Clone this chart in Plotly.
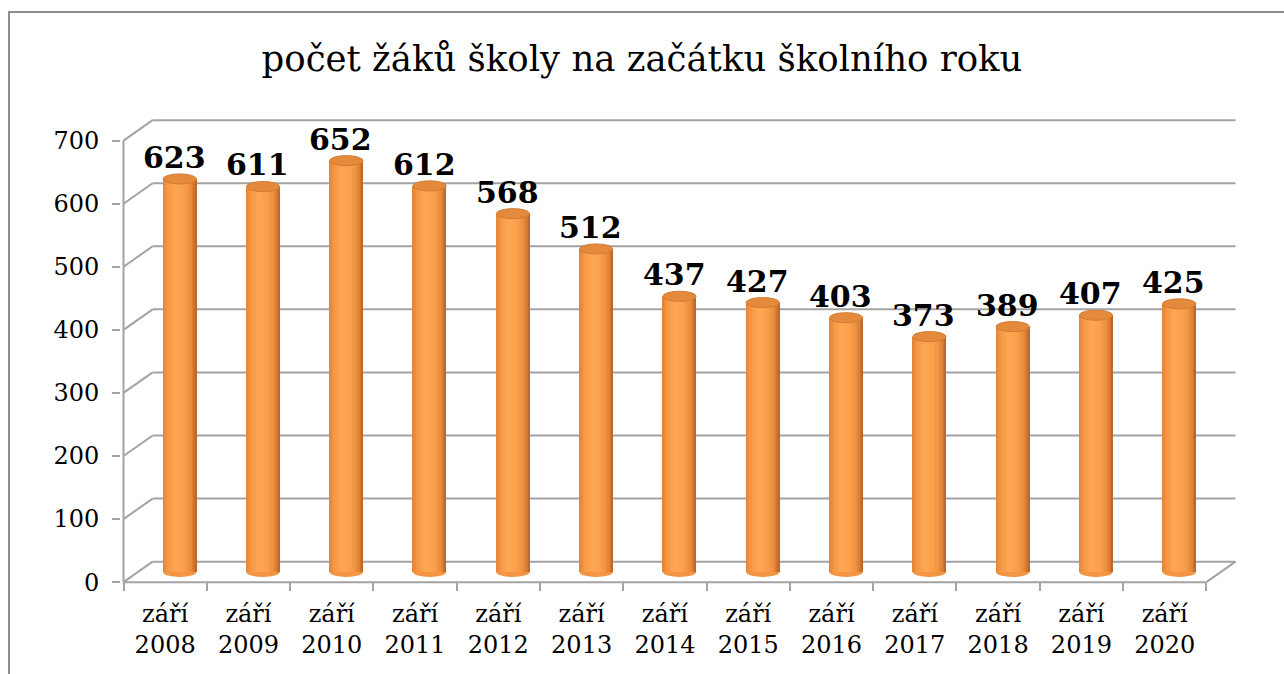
import plotly.graph_objects as go

# ---------------- data ----------------
categories = ["září 2008", "září 2009", "září 2010", "září 2011", "září 2012",
              "září 2013", "září 2014", "září 2015", "září 2016", "září 2017",
              "září 2018", "září 2019", "září 2020"]
values = [623, 611, 652, 612, 568, 512, 437, 427, 403, 373, 389, 407, 425]
y_ticks = [0, 100, 200, 300, 400, 500, 600, 700]
title_text = "počet žáků školy na začátku školního roku"

# ---------------- geometry / style ----------------
W, H = 1284, 674
L, R, T, B = 121, 46, 117, 89
DX_BACK, DY_BACK = 0.35, 32.5          # depth offset of back wall (category units, value units)
DX_MID, DY_MID = DX_BACK / 2, DY_BACK / 2
BAR_W = 0.40
RY = 8.0                               # vertical radius of cylinder caps (value units)
N_STRIPS = 26
FONT = "DejaVu Serif"
GRID = "#A3A3A3"

stops = [(0.0, (0xE2, 0x82, 0x36)), (0.15, (0xF5, 0x97, 0x45)), (0.38, (0xFF, 0xA7, 0x53)),
         (0.62, (0xFB, 0xA0, 0x4C)), (0.80, (0xEF, 0x91, 0x41)), (0.92, (0xDA, 0x7D, 0x33)),
         (1.0, (0xB5, 0x62, 0x27))]


def interp(t):
    for (t0, c0), (t1, c1) in zip(stops[:-1], stops[1:]):
        if t0 <= t <= t1:
            f = (t - t0) / (t1 - t0)
            c = [round(a + (b - a) * f) for a, b in zip(c0, c1)]
            return "rgb(%d,%d,%d)" % tuple(c)
    return "rgb(%d,%d,%d)" % stops[-1][1]


n = len(categories)
fig = go.Figure()

# cylinder bodies as vertical shaded strips
strip = BAR_W / N_STRIPS
for k in range(N_STRIPS):
    t = (k + 0.5) / N_STRIPS
    w = strip * (1.0 if k == N_STRIPS - 1 else 1.25)
    fig.add_trace(go.Bar(
        x=categories, y=values, base=[DY_MID] * n,
        width=w, offset=DX_MID - BAR_W / 2 + k * strip,
        marker=dict(color=interp(t), line=dict(width=0)),
        hoverinfo="skip", showlegend=False))

shapes = []
# back wall gridlines and left-side diagonals
for v in y_ticks:
    shapes.append(dict(type="line", xref="x", yref="y", layer="below",
                       x0=-0.5 + DX_BACK, x1=n - 0.5 + DX_BACK, y0=v + DY_BACK, y1=v + DY_BACK,
                       line=dict(color=GRID, width=2)))
    shapes.append(dict(type="line", xref="x", yref="y", layer="below",
                       x0=-0.5, x1=-0.5 + DX_BACK, y0=v, y1=v + DY_BACK,
                       line=dict(color=GRID, width=2)))
# front left axis, front floor edge, right floor edge
shapes.append(dict(type="line", xref="x", yref="y", layer="below",
                   x0=-0.5, x1=-0.5, y0=0, y1=y_ticks[-1], line=dict(color=GRID, width=2)))
shapes.append(dict(type="line", xref="x", yref="y", layer="below",
                   x0=-0.5, x1=n - 0.5, y0=0, y1=0, line=dict(color=GRID, width=2)))
shapes.append(dict(type="line", xref="x", yref="y", layer="below",
                   x0=n - 0.5, x1=n - 0.5 + DX_BACK, y0=0, y1=DY_BACK, line=dict(color=GRID, width=2)))

# cylinder bottom and top caps
for i, v in enumerate(values):
    cx = i + DX_MID
    shapes.append(dict(type="circle", xref="x", yref="y", layer="below",
                       x0=cx - BAR_W / 2, x1=cx + BAR_W / 2, y0=DY_MID - RY, y1=DY_MID + RY,
                       fillcolor="#F39543", line=dict(width=0)))
    shapes.append(dict(type="circle", xref="x", yref="y", layer="above",
                       x0=cx - BAR_W / 2, x1=cx + BAR_W / 2, y0=v + DY_MID - RY, y1=v + DY_MID + RY,
                       fillcolor="#E38A3C", line=dict(color="#D27C33", width=1)))

# outer chart frame
shapes.append(dict(type="rect", xref="paper", yref="paper",
                   x0=(9 - L) / (W - L - R), x1=(W + 20 - L) / (W - L - R),
                   y0=-(B + 20) / (H - T - B), y1=(H - B - 12) / (H - T - B),
                   line=dict(color="#8C8C8C", width=2), fillcolor="rgba(0,0,0,0)"))

annotations = []
for i, v in enumerate(values):
    annotations.append(dict(x=i + DX_MID - 0.065, y=v + DY_MID + RY, xref="x", yref="y",
                            text="<b>%d</b>" % v, showarrow=False, yanchor="bottom",
                            yshift=-3, font=dict(family=FONT, size=30, color="black")))

fig.update_layout(
    width=W, height=H,
    margin=dict(l=L, r=R, t=T, b=B),
    paper_bgcolor="white", plot_bgcolor="white",
    barmode="overlay", bargap=0,
    showlegend=False,
    title=dict(text=title_text, x=0.5, xref="container", xanchor="center",
               y=1 - 59 / H, yref="container", yanchor="middle",
               font=dict(family=FONT, size=35.5, color="black")),
    shapes=shapes, annotations=annotations,
    xaxis=dict(type="category", categoryorder="array", categoryarray=categories,
               range=[-0.53, n - 0.5 + DX_BACK + 0.03],
               tickvals=categories, ticktext=[c.replace(" ", "<br>") for c in categories],
               tickson="boundaries", ticks="outside", ticklen=8, tickwidth=2, tickcolor=GRID,
               showgrid=False, zeroline=False, showline=False,
               anchor="free", position=0.006, ticklabelstandoff=15,
               tickfont=dict(family=FONT, size=24, color="black")),
    yaxis=dict(range=[-4.5, 737.5], tickvals=y_ticks, ticks="outside", ticklen=8, tickwidth=2,
               tickcolor=GRID, showgrid=False, zeroline=False, showline=False,
               ticklabelstandoff=8,
               tickfont=dict(family=FONT, size=24, color="black")),
)

fig.write_html("out.html")
